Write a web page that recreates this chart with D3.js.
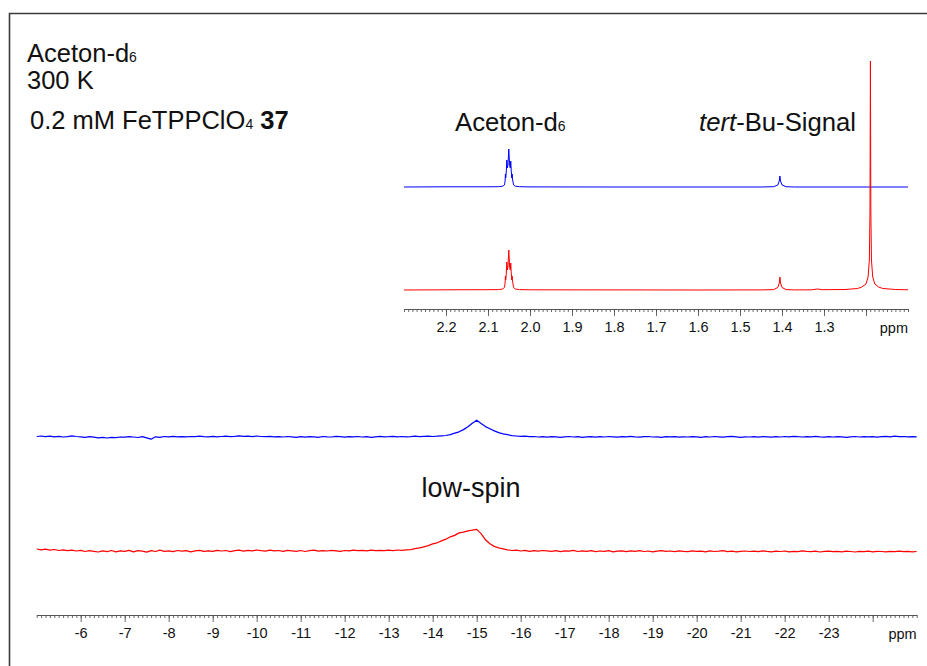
<!DOCTYPE html>
<html><head><meta charset="utf-8">
<script src="https://cdn.jsdelivr.net/npm/d3@7"></script>
<style>
html,body{margin:0;padding:0;background:#fff;}
svg{display:block;font-family:"Liberation Sans",Arial,sans-serif;}
</style></head>
<body>
<svg id="chart" width="927" height="666"></svg>
<script>
// ---------------- DATA ----------------
// Inset (upper) spectra: [ppm, intensity a.u.]
const insetBlue = [[2.30,0],[2.20,0.2],[2.10,0.2],[2.075,0.3],[2.065,0.8],[2.061,2],[2.0595,5],[2.059,9],[2.0585,13],[2.0578,9],[2.0565,15],[2.0552,27],[2.054,19],[2.0525,22],[2.0505,38],[2.0485,22],[2.047,19],[2.0458,26],[2.0445,15],[2.0432,9],[2.0425,13],[2.042,9],[2.0405,5],[2.039,2],[2.035,0.8],[2.025,0.3],[2.00,0.1],[1.80,0],[1.60,0],[1.45,0],[1.42,0.3],[1.41,2],[1.4065,6],[1.405,11],[1.4035,6],[1.40,2],[1.39,0.3],[1.37,0],[1.20,0],[1.10,0]];
const insetRed = [[2.30,0],[2.20,0.2],[2.10,0.3],[2.075,0.4],[2.065,1],[2.061,2.5],[2.0595,6],[2.059,10],[2.0585,14],[2.0578,10],[2.0565,16],[2.0552,28],[2.054,20],[2.0525,23],[2.0505,40],[2.0485,23],[2.047,20],[2.0458,27],[2.0445,16],[2.0432,10],[2.0425,14],[2.042,10],[2.0405,6],[2.039,2.5],[2.035,1],[2.025,0.4],[2.00,0.2],[1.80,0.1],[1.60,0],[1.45,0.1],[1.42,0.4],[1.41,2.5],[1.4065,7],[1.405,13],[1.4035,7],[1.40,2.5],[1.39,0.4],[1.37,0.1],[1.33,0.2],[1.315,1],[1.305,0.3],[1.25,0.5],[1.22,1.5],[1.21,3],[1.20,6],[1.195,13],[1.192,30],[1.1905,80],[1.1895,229],[1.1885,80],[1.187,30],[1.184,13],[1.179,6],[1.17,3],[1.16,1.5],[1.13,0.5],[1.10,0.2]];

// Lower spectra: sampled from -5.0 ppm to -25.0 ppm every 0.1 ppm
const lowerStartPpm = -5.0;
const lowerStepPpm = -0.1;
const lowerBlue = [
 0.5,1,0.3,0.8,0.2,0.6,0,0.4,1.2,0.5,0.2,-0.3,0.3,-0.2,-0.8,-0.4,-1,-0.3,-0.6,0,
 -0.2,0.4,0,-0.5,0.3,-0.8,-2.2,0.2,-0.3,0.5,0.1,0.6,0.2,0.4,0.1,0.5,0.3,0.8,0.4,0.2,
 0.6,0.1,0.5,0.9,0.3,0.7,1.2,0.6,0.8,0.4,1,0.5,0.3,0.7,0.2,0.4,0,0.5,0.2,-0.3,
 0.4,-0.2,0.3,0.1,-0.4,0.5,0.2,0,0.6,0.3,-0.2,0.4,0.1,0.5,0,0.3,-0.3,0.2,0.6,0.1,
 0.3,0.7,0.2,0.5,0.1,0.4,0.8,0.3,0.6,0.9,0.5,0.8,1.2,
 1.5,2.3,3.8,5.2,7.4,10.2,13.8,16.8,13.5,10.4,8.3,6.1,4.4,3.2,2.3,1.4,
 1,0.6,0.9,0.3,0.5,0,0.4,-0.2,0.3,0.1,-0.4,0.2,0.5,0,0.3,-0.3,0.2,0.4,-0.1,0.3,
 0,0.5,0.2,-0.2,0.4,0.1,0.6,0.2,-0.1,0.3,0.5,0,0.2,-0.3,0.4,0.1,0.3,-0.2,0.2,0,
 0.4,0.1,-0.3,0.3,0,0.5,0.2,-0.2,0.3,0.6,0.1,-0.4,0.2,0,0.3,-0.1,0.4,0.1,-0.2,0.3,
 0,0.5,0.2,0.7,0.3,0,0.4,0.2,0.6,0.1,-0.2,0.3,0,0.4,0.1,-0.3,0.2,0.5,0,0.3,
 0.1,0.4,-0.1,0.3,0.6,0.2,0.8,0.3,0.5,0.1,0.4,0.2];
const lowerRed = [
 2,1.2,1.8,0.8,1.5,0.5,1.2,0.3,0.9,0,0.6,-0.5,0.4,-0.3,-1,0.2,-0.6,0.5,-0.8,0.1,
 -0.4,0.6,-0.9,0.3,-0.2,-1.1,0.4,-0.5,0.8,-0.3,0.2,-0.7,0.5,-0.2,0.3,-0.8,0.1,0.6,-0.4,0.2,
 -0.3,0.7,0,0.5,-0.6,0.4,0.9,-0.1,0.6,0.2,1,0.3,-0.2,0.8,0.1,0.5,-0.4,0.6,0.2,-0.3,
 0.5,-0.5,0.3,0.8,-0.2,0.4,0,0.7,0.2,-0.4,0.5,0.1,0.8,0.3,0.6,0.2,0.9,0.4,0.7,0.3,
 0.8,0.4,1,0.6,1.2,
 1.4,2.3,3.1,4.2,5.4,7.1,8.2,10.1,11.8,14.2,15.6,18.1,18.8,20.2,20.8,21.6,17.4,11.2,7.3,4.6,3.1,2.2,1.2,
 0.5,0.9,0,0.6,-0.3,0.4,-0.2,0.5,0.1,-0.4,0.3,-0.6,0.2,-0.1,0.6,-0.5,0.1,-0.3,0.4,-0.7,
 0,-0.4,0.3,-0.8,-0.1,0.2,-0.6,0.1,-0.3,0.4,-0.5,0,-0.9,-0.2,0.3,-0.4,0,-0.7,0.2,-0.3,
 -0.6,0.1,-0.4,-0.1,-0.8,0.2,-0.5,-0.2,0.3,-0.6,-0.1,-0.9,-0.3,0,-0.5,-0.2,-0.7,0.1,-0.4,-0.8,
 -0.2,-0.5,0,-0.9,-0.3,-0.6,0.1,-0.4,-0.7,-0.2,-1,-0.4,-0.1,-0.6,-0.3,-0.8,-0.2,-0.5,-1,-0.4,
 -0.6,-0.2,-0.8,-0.3,-0.5,-0.9,-0.4,-0.7,-0.2,-0.6,-0.3,-0.8,-0.5];

// Axis ticks / labels
const insetDomain = [2.3, 1.1];
const insetMajor = [2.2,2.1,2.0,1.9,1.8,1.7,1.6,1.5,1.4,1.3,1.2];
const insetLabels = ["2.2","2.1","2.0","1.9","1.8","1.7","1.6","1.5","1.4","1.3"];
const lowerDomain = [-5, -25];
const lowerMajor = [-6,-7,-8,-9,-10,-11,-12,-13,-14,-15,-16,-17,-18,-19,-20,-21,-22,-23,-24];
const lowerLabels = ["-6","-7","-8","-9","-10","-11","-12","-13","-14","-15","-16","-17","-18","-19","-20","-21","-22","-23"];
const unitLabel = "ppm";

// ---------------- DRAW ----------------
const svg = d3.select("#chart");
const BLUE = "#0000ff", RED = "#ff0000";

// frame
svg.append("path").attr("d","M9.5,666 V13.5 H927").attr("fill","none")
  .attr("stroke","#3a3a3a").attr("stroke-width",1.6);

// scales
const xIn = d3.scaleLinear().domain(insetDomain).range([404, 908]);
const xLo = d3.scaleLinear().domain(lowerDomain).range([36.7, 916.7]);
const yInBlue = d3.scaleLinear().domain([0, 229]).range([187, -42]);
const yInRed  = d3.scaleLinear().domain([0, 229]).range([290, 61]);
const yLoBlue = d3.scaleLinear().domain([0, 20]).range([437, 417]);
const yLoRed  = d3.scaleLinear().domain([0, 20]).range([551, 531]);

function drawTrace(data, x, y, color, w){
  svg.append("path").datum(data)
    .attr("fill","none").attr("stroke",color).attr("stroke-width",w)
    .attr("stroke-linejoin","round")
    .attr("d", d3.line().x(d=>x(d[0])).y(d=>y(d[1])));
}
const lowerPts = arr => arr.map((v,i)=>[lowerStartPpm + i*lowerStepPpm, v]);

drawTrace(insetBlue, xIn, yInBlue, BLUE, 1);
drawTrace(insetRed, xIn, yInRed, RED, 1);
drawTrace(lowerPts(lowerBlue), xLo, yLoBlue, BLUE, 1.25);
drawTrace(lowerPts(lowerRed), xLo, yLoRed, RED, 1.25);

// axes
function drawAxis(scale, y, minorStep, major, labels){
  const [d0,d1] = scale.domain();
  const n = Math.round(Math.abs(d1-d0)/minorStep);
  const minor = d3.range(n+1).map(i => +(d0 + Math.sign(d1-d0)*i*minorStep).toFixed(4));
  const g = svg.append("g").attr("transform",`translate(0,${y})`);
  const minorAxis = d3.axisBottom(scale).tickValues(minor).tickSize(3).tickSizeOuter(0).tickFormat("");
  g.append("g").call(minorAxis);
  const majorAxis = d3.axisBottom(scale).tickValues(major).tickSize(7).tickSizeOuter(0).tickPadding(6)
     .tickFormat((d,i)=> labels[i] !== undefined ? labels[i] : "");
  g.append("g").call(majorAxis);
  g.selectAll(".domain").attr("stroke","#555").attr("stroke-width",1.2);
  g.selectAll(".tick line").attr("stroke","#444").attr("stroke-width",0.8);
  g.selectAll(".tick text").attr("font-size",14.5).attr("fill","#111")
    .attr("font-family","'Liberation Sans', Arial, sans-serif");
  g.append("text").attr("x", scale.range()[1]).attr("y", 23.5)
    .attr("text-anchor","end").attr("font-size",14.5).attr("fill","#111").text(unitLabel);
}
drawAxis(xIn, 309, 0.01, insetMajor, insetLabels);
drawAxis(xLo, 615, 0.1, lowerMajor, lowerLabels);

// annotations
const T = (x,y,size)=> svg.append("text").attr("x",x).attr("y",y).attr("font-size",size).attr("fill","#111");
let t = T(27,62,25.5); t.append("tspan").text("Aceton-d"); t.append("tspan").attr("font-size",14).text("6");
T(27,89,25.5).text("300 K");
t = T(30,129,25.5);
t.append("tspan").text("0.2 mM FeTPPClO");
t.append("tspan").attr("font-size",14).text("4");
t.append("tspan").text(" ");
t.append("tspan").attr("font-weight","bold").text("37");
t = T(455,131,25.7); t.append("tspan").text("Aceton-d"); t.append("tspan").attr("font-size",14).text("6");
t = T(699,131,25.7); t.append("tspan").attr("font-style","italic").text("tert"); t.append("tspan").text("-Bu-Signal");
T(471,497,27).attr("text-anchor","middle").text("low-spin");
</script>
</body></html>
